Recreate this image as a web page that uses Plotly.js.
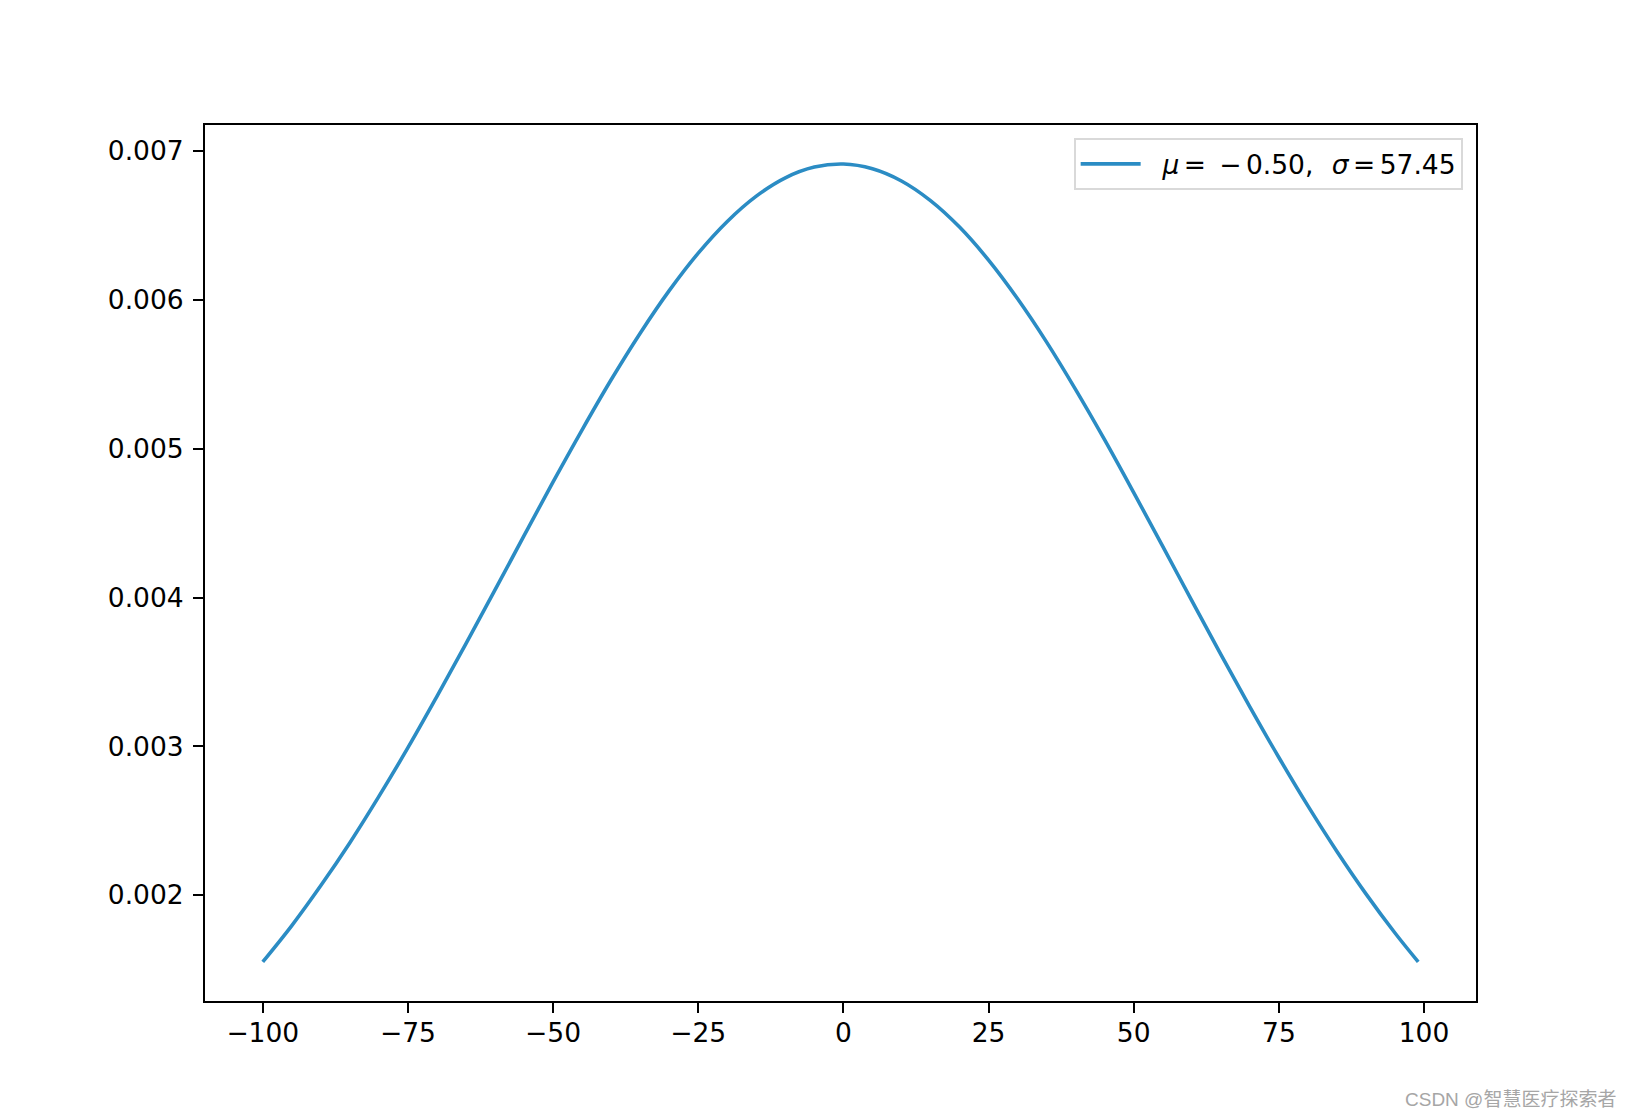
<!DOCTYPE html>
<html>
<head>
<meta charset="utf-8">
<script src="https://cdn.plot.ly/plotly-3.0.1.min.js"></script>
<style>
  html, body { margin: 0; padding: 0; background: #ffffff; }
  #chart { width: 1634px; height: 1120px; }
</style>
</head>
<body>
<div id="chart"></div>
<script>
// Values
const xValues = [-100, -95, -90, -85, -80, -75, -70, -65, -60, -55, -50, -45, -40, -35, -30, -25, -20, -15, -10, -5,
                 0, 5, 10, 15, 20, 25, 30, 35, 40, 45, 50, 55, 60, 65, 70, 75, 80, 85, 90, 95, 99];
const densityValues = [0.001552, 0.001796, 0.002065, 0.002353, 0.002664, 0.002991, 0.003336, 0.003690, 0.004051, 0.004416,
                       0.004777, 0.005127, 0.005463, 0.005776, 0.006062, 0.006314, 0.006527, 0.006697, 0.006820, 0.006892,
                       0.006913, 0.006881, 0.006799, 0.006667, 0.006489, 0.006267, 0.006007, 0.005716, 0.005397, 0.005059,
                       0.004705, 0.004344, 0.003979, 0.003618, 0.003265, 0.002925, 0.002600, 0.002294, 0.002009, 0.001746,
                       0.001552];
const seriesName = "\u00a0\u00a0<i>μ</i>\u2006=\u2002−\u20060.50,\u2002\u2009<i>σ</i>\u2006=\u200657.45";
const xTickVals = [-100, -75, -50, -25, 0, 25, 50, 75, 100];
const xTickText = ["−100", "−75", "−50", "−25", "0", "25", "50", "75", "100"];
const yTickVals = [0.002, 0.003, 0.004, 0.005, 0.006, 0.007];
const yTickText = ["0.002", "0.003", "0.004", "0.005", "0.006", "0.007"];
const watermark = "CSDN @智慧医疗探索者";

const trace = {
  x: xValues,
  y: densityValues,
  type: "scatter",
  mode: "lines",
  name: seriesName,
  line: { color: "#2b8cc4", width: 3.6, shape: "spline", smoothing: 1 },
  showlegend: true
};

const axisFont = { family: "DejaVu Sans, sans-serif", size: 26.5, color: "#000000" };

const layout = {
  width: 1634,
  height: 1120,
  paper_bgcolor: "#ffffff",
  plot_bgcolor: "#ffffff",
  margin: { l: 205, r: 158, t: 125, b: 119, pad: 0 },
  font: axisFont,
  showlegend: true,
  xaxis: {
    range: [-109.95, 108.95],
    tickmode: "array",
    tickvals: xTickVals,
    ticktext: xTickText,
    ticks: "outside",
    ticklen: 10,
    tickwidth: 2,
    tickcolor: "#000000",
    ticklabelstandoff: -3,
    showline: true,
    linecolor: "#000000",
    linewidth: 2,
    mirror: true,
    showgrid: false,
    zeroline: false,
    tickfont: axisFont
  },
  yaxis: {
    range: [0.001289, 0.007175],
    tickmode: "array",
    tickvals: yTickVals,
    ticktext: yTickText,
    ticks: "outside",
    ticklen: 10,
    tickwidth: 2,
    tickcolor: "#000000",
    ticklabelstandoff: 4,
    showline: true,
    linecolor: "#000000",
    linewidth: 2,
    mirror: true,
    showgrid: false,
    zeroline: false,
    tickfont: axisFont
  },
  legend: {
    x: 0.9895,
    y: 0.985,
    xanchor: "right",
    yanchor: "top",
    bgcolor: "rgba(255,255,255,0.8)",
    bordercolor: "#d9d9d9",
    borderwidth: 2,
    itemwidth: 60,
    font: { family: "DejaVu Sans, sans-serif", size: 26.5, color: "#000000" }
  },
  annotations: [{
    text: watermark,
    xref: "paper",
    yref: "paper",
    x: 1.112,
    y: -0.112,
    xanchor: "right",
    yanchor: "middle",
    showarrow: false,
    font: { family: "Liberation Sans, Noto Sans CJK SC, sans-serif", size: 19, color: "#a6a6a6" }
  }]
};

Plotly.newPlot("chart", [trace], layout, { displayModeBar: false, staticPlot: true });
</script>
</body>
</html>
